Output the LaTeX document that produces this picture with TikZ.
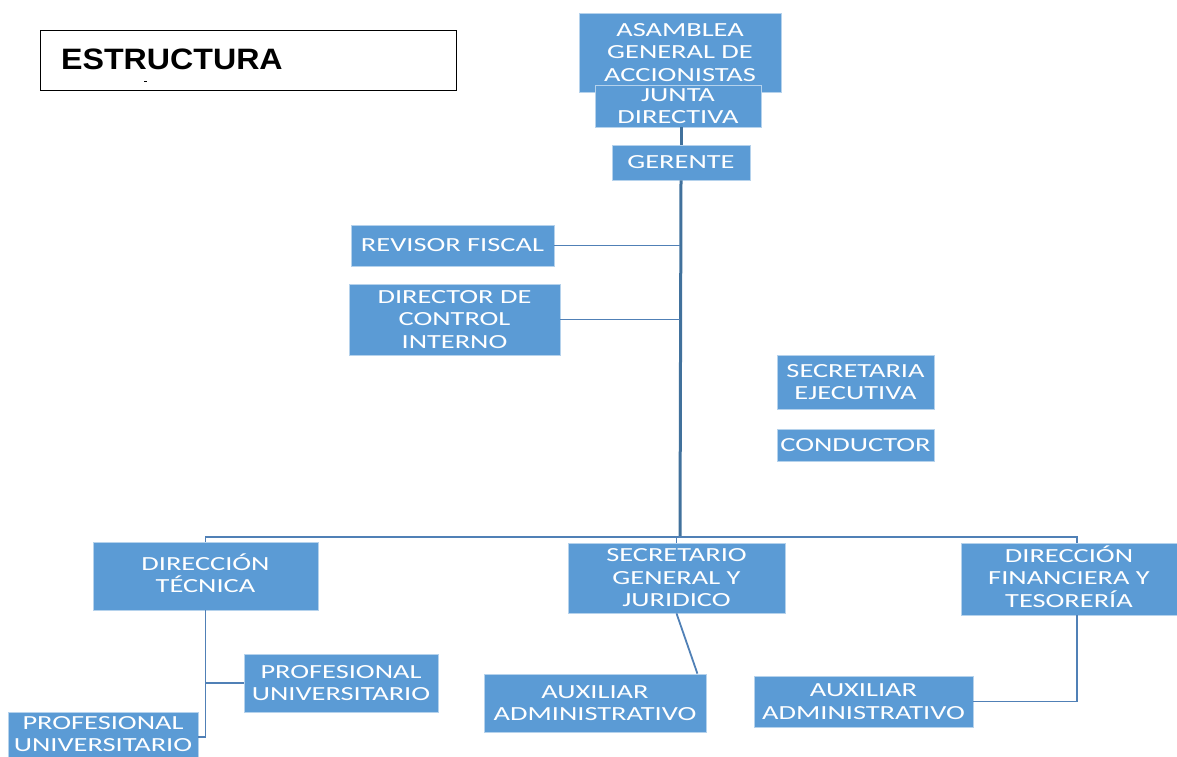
\documentclass[tikz,border=0pt]{standalone}
\usepackage{fontspec}
\newfontfamily\boxfont[FakeStretch=1.42]{Carlito}
\newfontfamily\titlefamily[FakeStretch=1.09]{Liberation Sans}
\definecolor{boxblue}{RGB}{91,155,213}
\definecolor{linkblue}{RGB}{80,128,182}
\definecolor{trunkblue}{RGB}{65,113,156}
\tikzset{
  orgbox/.style={fill=boxblue, draw=white!55!boxblue, line width=0.8pt, text=white,
    align=center, inner sep=0pt, font=\boxfont\fontsize{20}{22.5}\selectfont},
  conn/.style={draw=linkblue, line width=1.8pt},
  trunk/.style={draw=trunkblue, line width=3pt},
}
\begin{document}
\begin{tikzpicture}[x=1pt,y=-1pt]
\useasboundingbox (0,0) rectangle (1177,757);
% title
\node[draw=black, line width=1pt, minimum width=416, minimum height=60, inner sep=0pt] (titlebox) at (248,61) {};
\node[anchor=base west, inner sep=0pt, font=\titlefamily\bfseries\fontsize{29.5}{32}\selectfont] (titletext) at (61,70) {ESTRUCTURA};
\draw[line width=0.6pt] (144,81) -- (147,81);
% top boxes
\node[orgbox, minimum width=202, minimum height=79] (asam) at (680,52.5) {ASAMBLEA\\GENERAL DE\\ACCIONISTAS};
\node[orgbox, minimum width=166, minimum height=42] (junta) at (678,106) {JUNTA\\DIRECTIVA};
\node[orgbox, minimum width=138, minimum height=35] (ger) at (681,162.5) {GERENTE};
\node[orgbox, minimum width=203, minimum height=41] (rev) at (452.5,245.5) {REVISOR FISCAL};
\node[orgbox, minimum width=211, minimum height=71] (dci) at (454.5,319.5) {DIRECTOR DE\\CONTROL\\INTERNO};
\node[orgbox, minimum width=157, minimum height=54] (secej) at (855.5,382) {SECRETARIA\\EJECUTIVA};
\node[orgbox, minimum width=157, minimum height=32] (cond) at (855.5,445) {CONDUCTOR};
% second level
\node[orgbox, minimum width=225, minimum height=68] (dtec) at (205.5,576) {};
\node[orgbox, fill=none, draw=none] (dtect) at (205.5,573) {DIRECCIÓN\\TÉCNICA};
\node[orgbox, minimum width=217, minimum height=70] (sec) at (676.5,578) {SECRETARIO\\GENERAL Y\\JURIDICO};
\node[orgbox, minimum width=216, minimum height=72] (dfin) at (1069,579) {};
\node[orgbox, fill=none, draw=none] (dfint) at (1069,576.5) {DIRECCIÓN\\FINANCIERA Y\\TESORERÍA};
% third level
\node[orgbox, minimum width=194, minimum height=58] (prof1) at (341,683) {PROFESIONAL\\UNIVERSITARIO};
\node[orgbox, minimum width=190, minimum height=50] (prof2) at (103,737) {};
\node[orgbox, fill=none, draw=none] (prof2t) at (103,734) {PROFESIONAL\\UNIVERSITARIO};
\node[orgbox, minimum width=222, minimum height=58] (aux1) at (595,703) {AUXILIAR\\ADMINISTRATIVO};
\node[orgbox, minimum width=219, minimum height=51] (aux2) at (863.5,701.5) {AUXILIAR\\ADMINISTRATIVO};
% connectors
\coordinate (bus) at (680,537);
\coordinate (fdrop) at (1077,543);
\draw[trunk] (junta.south -| ger.north) -- (ger.north);
\draw[trunk] (ger.south) -- (bus);
\draw[conn] (rev.east) -- (rev.east -| bus);
\draw[conn] (dci.east) -- (dci.east -| bus);
\draw[conn] (dtec.north) |- (bus) -| (fdrop);
\draw[conn] (sec.north |- bus) -- (sec.north);
\draw[conn] (dtec.south) |- (prof2.east);
\draw[conn] (dtec.south |- prof1.west) -- (prof1.west);
\draw[conn] (sec.south) -- ([xshift=-9pt]aux1.north east);
\draw[conn] ([xshift=8pt]dfin.south) |- (aux2.east);
\end{tikzpicture}
\end{document}
